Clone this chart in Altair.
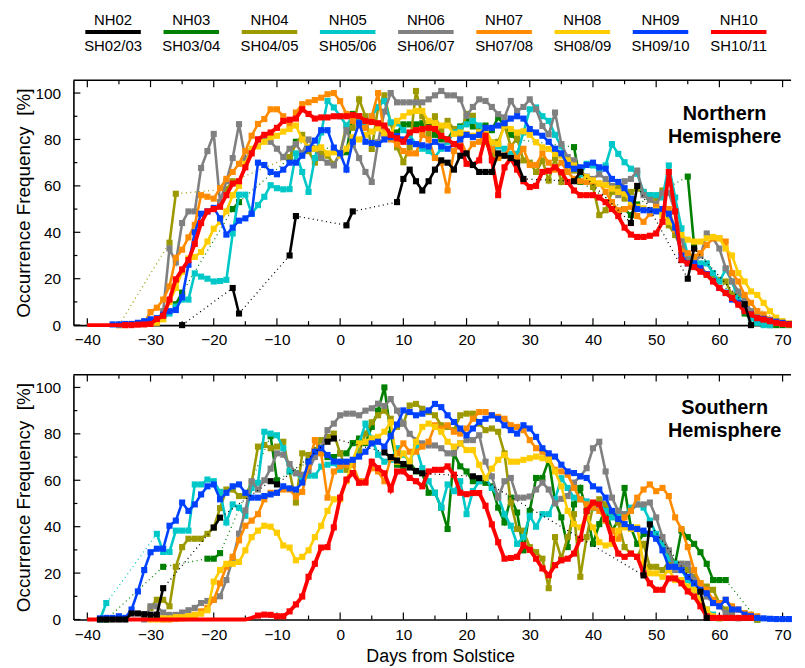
import altair as alt
import pandas as pd

FONT = "Liberation Sans"
W, H = 724, 247
X_MIN, X_MAX = -42.2, 71.34
Y_MAX = 105.5
PX_PER_DAY = W / (X_MAX - X_MIN)

NH_NAMES = ["NH02", "NH03", "NH04", "NH05", "NH06", "NH07", "NH08", "NH09", "NH10"]
SH_NAMES = ["SH02/03", "SH03/04", "SH04/05", "SH05/06", "SH06/07", "SH07/08", "SH08/09", "SH09/10", "SH10/11"]
COLORS = ["#000000", "#008000", "#9c9a00", "#00c8c8", "#808080", "#ff8c00", "#ffcc00", "#0040ff", "#ff0000"]
WIDTHS = [2.6, 2.6, 2.6, 2.6, 2.6, 2.6, 2.6, 2.6, 3.8]
DRAW_ORDER = [1, 2, 3, 4, 5, 6, 7, 8, 0]

# ---------------- Northern Hemisphere: (start day, values per day) segments ----------------
NH02 = [(-25, [0]), (-17, [16, 5]), (-8, [30, 47]), (1, [43, 49]),
        (9, [53, 63, 67, 62, 58, 62, 67, 71, 70, 67, 73, 74, 69, 66, 66, 66, 74, 73, 72, 70, 63]),
        (37, [62, 66]), (46, [44, 60]), (55, [20, 33]), (64, [9, 0])]
NH03 = [(-26, [9, 14]), (-17, [50, 53]), (-8, [72, 79]), (1, [74.5, 91, 90]),
        (9, [83, 86.5, 86.5, 86.5, 87, 87, 82, 80, 80, 84.5, 85.6, 88, 85.6, 85.6, 86, 84, 89.5, 86, 82, 80]),
        (37, [76.7, 61.7]), (45, [50, 47.4, 52]), (55, [64, 34.5]), (64, [5, 3, 1, 0.5, 0, 0, 0, 0])]
NH04 = [(-35, [0]), (-27, [35.5, 56.6]), (-18, [58.6, 62]),
        (-8, [72.4, 78, 82, 75, 70, 74, 73, 69.4,
              74, 86, 85, 97.3, 90, 75.9, 93.8, 99, 87, 76.6,
              70.2, 76.6, 100.9, 90, 82, 90, 84, 88, 84.5, 81.6,
              91, 90.2, 82, 79, 72.8, 79, 86, 77, 80.5, 71,
              70, 66, 71, 62.3, 72, 61.7, 68.8, 66.6, 65.9, 63,
              59.5, 47.4, 49.5, 57.4, 59.6, 54.5, 57.4, 58.8, 57.4, 56,
              54.5, 58, 43, 38.8, 33, 30, 27, 26, 21.7, 20,
              19.5, 18.8, 13, 12.6]), (70, [0.5])]
NH05 = [(-30, [1, 2, 3, 5, 8, 11, 11, 22.3, 20.9, 20,
               18.8, 19, 19.5, 39.5, 56.2, 56.2, 48, 51.7, 55.3, 60.3,
               59, 58.5, 58.6, 74, 66, 57.4, 72, 83, 96.6, 93.8,
               90, 86, 90, 88, 86, 90, 94, 96.6, 87.4, 87,
               84, 82, 78, 76, 75, 72.4, 76, 79, 83, 85,
               86.5, 88, 86, 83, 78.8, 77, 76, 73.8, 73.8, 83,
               93, 93.8, 90, 88, 82, 77, 69, 68, 65, 69.5,
               68.8, 67, 68.8, 78, 73.8, 70.2, 67.4, 65.2, 57.4, 56,
               56, 55, 68.8, 55, 41.7, 30, 27, 26.6, 26.6, 22.4,
               18.8, 24, 18.8, 11, 6, 3, 1, 0, 0])]
NH06 = [(-30, [1, 2, 6, 33, 27, 44, 49, 49, 67.7, 75,
               82.4, 53, 62, 72, 86.6, 71.7, 75, 80, 81, 79,
               76, 72.4, 76, 78, 74, 80, 76, 72, 70, 68.8,
               74, 84, 78, 72, 66, 61.7, 78.8, 92, 100, 96,
               96, 96, 96, 96, 97.3, 99, 100.9, 99, 99, 97.3,
               90.2, 94, 97.3, 96.6, 94, 90.9, 89.5, 96.6, 92.3, 94,
               97.3, 93, 85.8, 82.2, 91.6, 78, 72.4, 71, 66.6, 64,
               63, 65, 63, 60, 56, 62, 63, 66.6, 56, 54,
               52, 57, 57, 49, 37, 28, 27, 30, 39.5, 37.4,
               33, 24.5, 18.8, 14.5, 11, 6, 3.6, 2.4, 1.7, 1])]
NH07 = [(-35, [0, 0, 0.5, 0.6, 1,
               5.6, 7.5, 11, 16.7, 29, 32.5, 37.8, 43.2, 56, 55.3,
               54.5, 59, 63, 66, 69.5, 75, 81.6, 86.7, 88.8, 93,
               93, 90, 86, 91.6, 95.2, 96, 97, 98, 99.5, 100,
               96.5, 91, 88, 86, 85, 90, 100, 82, 80, 78,
               75, 74, 74, 82, 80, 72, 70, 58, 75, 80,
               74, 78, 79, 83, 76, 72, 73, 77, 72, 76,
               69, 69, 74, 70, 67, 70, 66, 63, 62, 61.7,
               62, 61, 57.4, 53, 49.5, 50, 51, 47, 44.5, 48,
               51, 50, 50, 41, 31.7, 31, 29.5, 31, 34.5, 37.4,
               37.4, 36, 22.4, 18.8, 13, 9.6, 6, 4.6, 2.4, 1, 0.5, 0.3])]
NH08 = [(-30, [0.5, 1, 2.5, 10, 16, 23, 28.7, 29.4, 31.5, 36,
               41.5, 44.5, 49, 56, 60, 69.5, 76, 77, 79, 81,
               81.6, 83.4, 84.5, 86, 80, 76.6, 76, 76.6, 74, 74.5,
               73, 76, 81, 80, 82, 83.4, 84.8, 82.5, 82.5, 88,
               90, 91.6, 92.3, 92.3, 88, 87, 86, 86, 82.4, 83,
               82.4, 81.6, 83, 84.5, 78.8, 78, 86, 84.5, 83, 83.5,
               82, 78.8, 76.6, 75.9, 73.8, 73, 71, 68.8, 66, 63.8,
               62.4, 61, 60.3, 58.8, 57.4, 56.7, 53, 51, 50.3, 49.5,
               49.5, 47.4, 44.5, 41.7, 38.8, 36.8, 36, 36, 37.4, 38,
               37.4, 33, 30, 22.4, 18.8, 14.5, 13, 9.6, 6, 3.2, 1.7, 0.8])]
NH09 = [(-36, [0.3, 0.3, 0.5, 0.5, 1, 1.7,
               2.5, 3, 4.5, 6, 6.5, 12, 26, 40, 48, 49,
               50.5, 46, 39, 42, 45, 46, 48, 70, 69, 66,
               65, 67, 70, 70, 73, 76, 79.5, 84, 84, 76.5,
               74, 67, 79, 87, 79, 78.5, 78, 80, 81, 81.5,
               80, 79, 78, 77.5, 77, 79, 77, 76, 78, 80,
               82, 81, 82, 85, 85, 86, 87, 89, 90, 89,
               84.5, 83, 81.6, 79, 76, 74, 69, 67.4, 68, 69,
               70, 68, 67.4, 63, 61.7, 59, 54.5, 50, 49.5, 49.5,
               49, 50, 48, 42, 30, 26.6, 26.6, 24.5, 22, 19,
               16, 14, 11, 9.6, 6.7, 4.6, 3, 2.7, 2, 1.5, 1, 0.5])]
NH10 = [(-40, [0, 0, 0, 0, 0, 0, 0, 0, 0.2, 0.3,
               0.5, 2.6, 4, 11, 19.7, 24, 28, 35, 44, 49,
               50, 51, 56, 61, 62, 68, 74, 80, 82, 83,
               85, 88, 88.5, 89, 93, 91, 89, 89.5, 89.5, 90,
               90, 90, 90.5, 90, 88, 87.5, 87, 86, 82, 80.5,
               79, 83, 84, 84.5, 85, 84.5, 81.5, 80, 78, 77,
               69.5, 69, 71, 81.6, 71, 56, 68, 72, 67, 62,
               59.5, 60, 66, 66.5, 68, 65.9, 61.7, 58, 56, 56,
               56, 55, 53, 50, 47, 42, 39, 38, 38, 38.5,
               39.5, 44.5, 66, 49, 28, 26.6, 25, 23, 21.7, 18.8,
               16, 13.8, 11.7, 8.8, 6, 4.6, 3, 2.4, 1.7, 1, 0.5, 0.3])]

# ---------------- Southern Hemisphere ----------------
SH0203 = [(-38, [0, 0, 0, 0, 0, 2.6, 2.6, 2.3, 2.1, 2.1, 13.5]), (-20, [39.6, 43.9]),
          (-11, [59.6, 58.2]), (-2, [76.6, 78]), (7, [72, 70, 68.5, 67, 65.5, 64, 63]),
          (21, [61.7, 60.9]), (48, [19, 41]), (57, [12, 0.7])]
SH0304 = [(-37, [0]), (-28, [22.7]), (-21, [26.2, 26.2, 28.6]), (-11, [79, 60]),
          (-5, [68, 73, 72, 70, 70,
                71.6, 71.6, 76, 78, 76, 83, 90, 100, 80.1, 66.7,
                65.2, 68, 63.8, 63.1, 54.6, 54.6, 48.2, 39, 71.6, 66,
                63.8, 59.6, 59.6, 58.9, 57.4, 48.2, 41.8, 52.5, 46.1, 29.8,
                46.8, 61, 61, 68.8, 51.1, 44, 31.2, 49.6, 56.7, 46.8,
                32.6, 41.1, 48.2, 38.3, 42.6, 56.7, 39.7, 32.6, 36.9, 36.9,
                35.5, 31.9, 29, 24, 38.3, 35.5, 32.6, 29, 24, 17, 17, 17]), (66, [0])]
SH0405 = [(-30, [5, 8.5, 8.5, 5.7, 22.7, 31.2, 34.8, 34.8, 34.8, 36.9,
                 39.7, 48, 56, 56, 53.2, 53.2, 59, 74.5, 75.2, 73.8,
                 74.5, 76.6, 63.8, 50.4, 71.6, 70.9, 72.3, 77.3, 78.7, 80.1,
                 71.6, 64.5, 68, 72, 80.1, 85, 88, 90, 86.5, 83,
                 84.4, 92.2, 92.9, 90.8, 89.4, 88, 83.7, 83, 81.6, 88,
                 88.7, 88.7, 84.4, 81.6, 82.3, 80.9, 71.6, 50.4, 39, 38.3,
                 31.2, 29, 26.2, 13.5, 35.5, 26.2, 35.5, 45.4, 18.4, 35.5,
                 48.9, 51.8, 49.6, 44.7, 41.8, 31.2, 28.4, 27, 32.6, 22.7,
                 22.7, 21.3, 24.8, 24, 24, 21.3, 18.4, 15.6, 14.2, 12.8, 7.1, 4.3, 2.1]), (66, [0])]
SH0506 = [(-38, [0, 7.1]),
          (-29, [36.9, 29.1, 29.1, 38.3, 38.3, 38.3, 58.2, 58.2, 60.3,
                 59.6, 55, 41.8, 49.6, 48.2, 44.7, 56.7, 58.9, 80.9, 80.1,
                 79.4, 73.8, 63.8, 63.1, 60.3, 62, 62, 65.9, 66.7, 67.4,
                 64.5, 67.4, 66.7, 76, 84.4, 78, 71, 68, 68.8, 73.8,
                 71, 68, 74.5, 65.2, 59.6, 54.6, 48.2, 58.2, 55.3, 59.6,
                 45.4, 55.3, 59.6, 61, 56.7, 53.2, 45.4, 40.4, 32.6, 35.5,
                 44.7, 40, 45.4, 45.4, 51.8, 60.9, 56.7, 52.5, 51.8, 50.9,
                 48, 49.6, 46.8, 44, 45.4, 45.4, 48.2, 49.6, 48.2, 42.6,
                 36.9, 32.6, 26.2, 24.1, 21.3, 17, 12.8, 8.5, 4.3, 2.1, 0.5])]
SH0607 = [(-31, [0,
                 5.7, 5.7, 3, 2, 2, 3, 4, 5, 7.1, 8,
                 8.5, 10, 17, 26, 37, 47, 59.6, 56, 60, 65,
                 71.6, 71, 67, 63, 62.4, 64, 70, 74, 81.6, 84.4,
                 88, 88.7, 88.7, 88, 90, 91, 93, 92, 95, 90,
                 84.4, 80, 77.3, 75.9, 75, 75, 73.8, 71.6, 71.6, 75.9,
                 77.3, 77.3, 79.4, 68, 61.7, 52.5, 59.6, 61, 52.5, 52.5,
                 53, 56, 59, 56, 50, 52, 53.2, 59, 61.7, 65.2,
                 73.8, 76.6, 63.8, 52.5, 46.8, 45.4, 46.8, 49.6, 49.6, 50.4,
                 44, 35.5, 29.8, 21.3, 24, 24, 17, 12.8, 9.9, 7.1, 5.7, 2.8, 1.4, 0.5])]
SH0708 = [(-28, [0, 0, 0.3, 0.5, 1, 2, 3.5, 5,
                 8.5, 15.6, 22.7, 27, 34.1, 40.4, 42.6, 45.4, 51.8, 54.6,
                 54.6, 56, 56, 53, 55, 66, 77.3, 71.6, 52.5, 63.8,
                 66, 66.7, 66.7, 59.6, 59.6, 65.2, 63.8, 59.6, 69.5, 71.6,
                 75.9, 72.3, 72.3, 74.5, 76.6, 83.7, 82.3, 83.7, 80.9, 80.1,
                 82.3, 86.5, 89.4, 89.4, 88, 87.3, 86.5, 83.7, 83, 81.6,
                 77.3, 73.8, 72.3, 69.5, 64.5, 63.8, 62.4, 56.7, 51.8, 49.6,
                 48.2, 46.8, 42.6, 38.3, 34.8, 44, 46.8, 52.5, 56, 58.2,
                 55.3, 56.7, 53.2, 44, 39, 31.2, 21.3, 15.6, 12.8, 8.5,
                 7.1, 8.5, 5.7, 4.3, 2.8, 2.1, 1.4])]
SH0809 = [(-30, [0, 0, 0.5, 0.5, 1, 1, 1.5, 2, 2.5, 4,
                 16.3, 21.3, 24, 24, 24.8, 29.8, 35.5, 38.3, 40.4, 40,
                 37.4, 31.9, 31, 25.5, 27, 29.8, 35.5, 40.4, 46.8, 51.8,
                 51.8, 59.6, 68.8, 75.9, 76.6, 78, 78.7, 80.9, 85, 68,
                 71.6, 68, 76.6, 83, 84.4, 83, 80.9, 76.6, 74.5, 75.9,
                 73, 73, 66.7, 60.9, 65, 68.8, 70.9, 68, 68, 68.8,
                 69.5, 70.2, 69.5, 68.8, 63.8, 57.4, 46.8, 41.1, 39.7, 43.9,
                 39.7, 33.3, 31.9, 32.6, 38.3, 39.7, 39, 39.7, 24.1, 19.9,
                 19.9, 18.4, 21.3, 17, 17, 14.2, 12.8, 8.5, 4.3, 1.4, 0.5])]
SH0910 = [(-38, [0.5, 0.7, 0.7, 1.4, 0.7, 4.3, 12.1, 21.3,
                 29, 30.5, 30.5, 40.4, 42.6, 50.4, 46.8, 49.6, 53.9, 57.4,
                 58.2, 51.8, 54.6, 57.4, 58.2, 54.6, 52.5, 52.5, 53.2, 53.9,
                 54.6, 57.4, 56.5, 56, 59, 68.1, 72.3, 73.8, 70.9, 68.1,
                 68, 68, 68.8, 70.2, 72.3, 75.9, 76.6, 74.5, 79, 84,
                 90.1, 89.4, 88, 88.7, 90.1, 92.9, 91.5, 88, 85.1, 82.3,
                 79.4, 82.3, 85.1, 86.5, 88, 86.5, 83.7, 81.6, 80.1, 83.7,
                 82.3, 78.7, 73.8, 71.6, 70.2, 66.7, 63.8, 63.1, 61.7, 61,
                 57.4, 56, 52.5, 46.8, 43.3, 41.1, 39.7, 39, 38.3, 36.9,
                 34.8, 29.8, 22.7, 22.7, 21.3, 18.4, 15.6, 12.8, 11.3, 7.1,
                 5.7, 8.5, 4.3, 4.3, 2.1, 1.4, 0.7, 0.5, 0.3, 0.2, 0.2, 0.2])]
SH1011 = [(-40, [0, 0, 0, 0, 0, 0, 0, 0, 0, 0,
                 0, 0, 0, 0, 0, 0, 0, 0, 0, 0,
                 0, 0, 0, 0, 0, 0, 0.7, 1.7, 2.1, 2,
                 1.4, 1.4, 3.5, 6.5, 9.9, 18.4, 24, 31, 31.2,
                 39.7, 52.5, 60.3, 63.1, 58.9, 59, 68, 65.2, 63, 56,
                 63.8, 63.8, 61, 59.6, 57.4, 63.8, 64.5, 64.5, 66, 62.4,
                 54.6, 54, 54.5, 54.5, 49, 41, 33.3, 26.2, 26.5, 27,
                 32, 30, 26.2, 22, 19.1, 23.4, 25.5, 26.2, 28.4, 34.8,
                 46.8, 50.4, 49.6, 43.3, 34.8, 28.4, 27, 28.4, 27, 19.9,
                 15.6, 12.8, 12.8, 17.7, 17.7, 15.6, 12.1, 9.9, 5.7, 1.4,
                 0.7, 0.7, 0.7, 0.7, 0.7, 0.7, 0.7])]

NH_SERIES = [NH02, NH03, NH04, NH05, NH06, NH07, NH08, NH09, NH10]
SH_SERIES = [SH0203, SH0304, SH0405, SH0506, SH0607, SH0708, SH0809, SH0910, SH1011]
MARKER_FROM = {"NH10": -34, "SH10/11": -13}

X_TICKS = list(range(-40, 71, 10))
X_MINOR = list(range(-35, 71, 10))
Y_TICKS = [0, 20, 40, 60, 80, 100]
Y_MINOR = [10, 30, 50, 70, 90]


def series_frame(name, segs):
    mfrom = MARKER_FROM.get(name)
    rows = []
    for s, (start, vals) in enumerate(segs):
        for k, v in enumerate(vals):
            d = start + k
            if d > X_MAX:
                continue
            rows.append({"day": d, "value": v, "seg": s,
                         "mark": 1 if (mfrom is None or d >= mfrom) else 0})
    return pd.DataFrame(rows)


def make_panel(names, series, label, x_title, legend):
    xs = alt.Scale(domain=[X_MIN, X_MAX], nice=False, zero=False)
    ys = alt.Scale(domain=[0, Y_MAX], nice=False, zero=True)
    if x_title:
        xaxis = alt.Axis(values=X_TICKS, ticks=False, grid=False, domainColor="black", domainWidth=1.6,
                         labelFontSize=15.5, labelPadding=8, labelColor="black", format="d",
                         title=x_title, titleFontSize=18, titleFontWeight="normal", titleColor="black",
                         titleX=W / 2 + 8, titleY=42, titleBaseline="alphabetic")
    else:
        xaxis = alt.Axis(values=X_TICKS, ticks=False, grid=False, domainColor="black", domainWidth=1.6,
                         labelFontSize=15.5, labelPadding=8, labelColor="black", format="d", title=None)
    yaxis = alt.Axis(values=Y_TICKS, ticks=False, grid=False, domainColor="black", domainWidth=1.6,
                     labelFontSize=15.5, labelPadding=13, labelColor="black",
                     title="Occurrence Frequency\u00a0\u00a0[%]", titleFontSize=19, titleFontWeight="normal",
                     titleColor="black", titleAngle=270, titleX=-50, titleY=H / 2, titleBaseline="middle",
                     titleAlign="center")
    X = alt.X("day:Q", scale=xs, axis=xaxis)
    Y = alt.Y("value:Q", scale=ys, axis=yaxis)

    layers = []
    # frame top and inward ticks
    layers.append(alt.Chart(pd.DataFrame({"day": [0.0], "value": [0.0]})).mark_rule(
        color="black", strokeWidth=1.6).encode(x=alt.value(0), x2=alt.value(W), y=alt.value(0)))
    for vals, ln in ((X_TICKS, 7), (X_MINOR, 4)):
        df = pd.DataFrame({"day": vals})
        layers.append(alt.Chart(df).mark_rule(color="black", strokeWidth=1.2).encode(
            x=X, y=alt.value(H), y2=alt.value(H - ln)))
        layers.append(alt.Chart(df).mark_rule(color="black", strokeWidth=1.2).encode(
            x=X, y=alt.value(0), y2=alt.value(ln)))
    for vals, ln in ((Y_TICKS, 7), (Y_MINOR, 4)):
        df = pd.DataFrame({"value": vals})
        layers.append(alt.Chart(df).mark_rule(color="black", strokeWidth=1.2).encode(
            y=Y, x=alt.value(0), x2=alt.value(ln)))

    for i in DRAW_ORDER:
        df = series_frame(names[i], series[i])
        c = COLORS[i]
        base = alt.Chart(df)
        layers.append(base.mark_line(color=c, strokeWidth=1.3, strokeDash=[1, 3.5]).encode(
            x=X, y=Y, order="day:Q"))
        layers.append(base.mark_line(color=c, strokeWidth=WIDTHS[i]).encode(
            x=X, y=Y, detail="seg:N", order="day:Q"))
        layers.append(base.transform_filter(alt.datum.mark == 1).mark_square(
            color=c, size=38, opacity=1).encode(x=X, y=Y))

    layers.append(alt.Chart(pd.DataFrame({"t": [label]})).mark_text(
        align="center", baseline="alphabetic", font=FONT, fontSize=20, fontWeight="bold",
        lineBreak="\n", lineHeight=23, color="black").encode(
        x=alt.value(657), y=alt.value(40), text="t:N"))

    if legend:
        centers = [X_MIN + (40 + k * 78.9) / PX_PER_DAY for k in range(9)]
        half = 28 / PX_PER_DAY
        leg = pd.DataFrame({"day": centers, "d1": [c - half for c in centers],
                            "d2": [c + half for c in centers],
                            "nh": NH_NAMES, "sh": SH_NAMES, "c": COLORS})
        legx = alt.X("day:Q", scale=xs, axis=xaxis)
        layers.append(alt.Chart(leg).mark_text(font=FONT, fontSize=15, color="black",
                                               align="center", baseline="alphabetic").encode(
            x=legx, y=alt.value(-55.3), text="nh:N"))
        layers.append(alt.Chart(leg).mark_text(font=FONT, fontSize=15, color="black",
                                               align="center", baseline="alphabetic").encode(
            x=legx, y=alt.value(-29.5), text="sh:N"))
        layers.append(alt.Chart(leg).mark_rule(strokeWidth=4).encode(
            x=alt.X("d1:Q", scale=xs, axis=xaxis), x2="d2:Q", y=alt.value(-48.7),
            color=alt.Color("c:N", scale=None)))

    return alt.layer(*layers).properties(width=W, height=H)


top = make_panel(NH_NAMES, NH_SERIES, "Northern\nHemisphere", None, True)
bottom = make_panel(SH_NAMES, SH_SERIES, "Southern\nHemisphere", "Days from Solstice", False)

chart = alt.vconcat(top, bottom, spacing=50, bounds="flush").properties(
    padding={"left": 6, "top": 2, "right": 0, "bottom": 0},
    background="white",
).configure_view(stroke=None).configure_axis(labelFont=FONT, titleFont=FONT)

chart.save("out.html", embed_options={"renderer": "svg", "actions": False})
